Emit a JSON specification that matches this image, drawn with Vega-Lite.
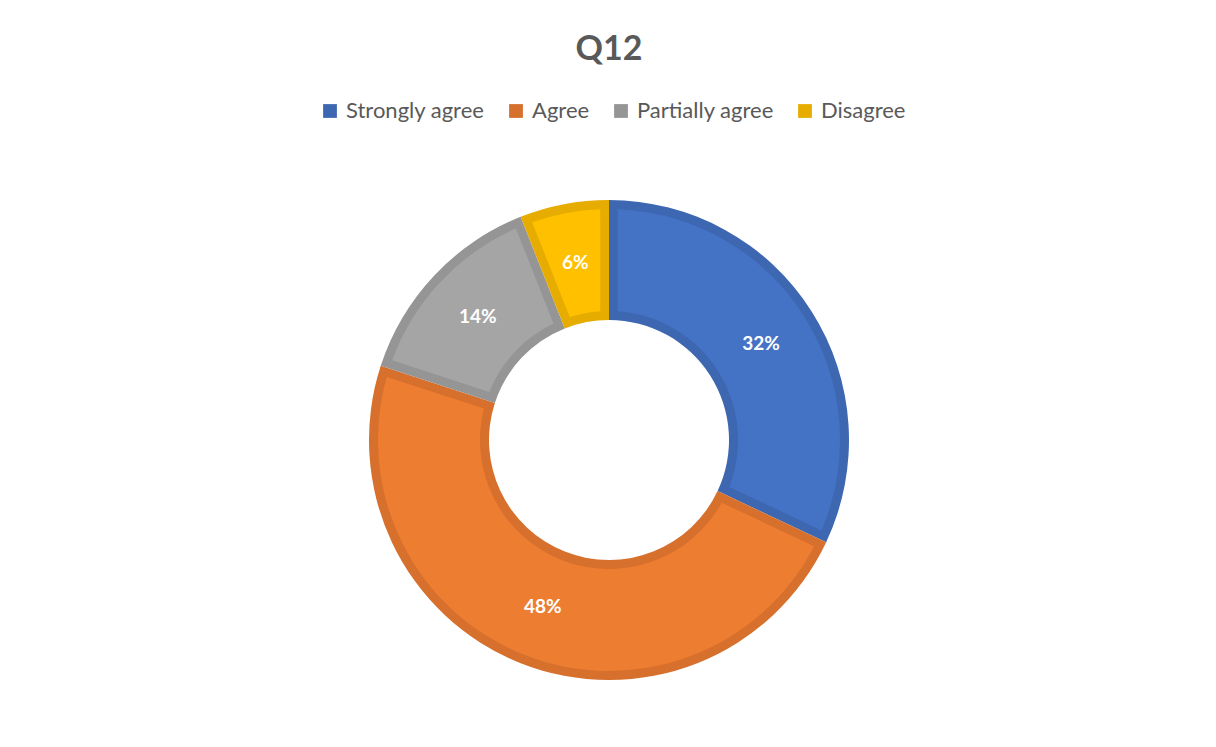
{
  "$schema": "https://vega.github.io/schema/vega-lite/v6.json",
  "width": 1214,
  "height": 614,
  "autosize": {"type": "none"},
  "padding": {"left": 2, "top": 133, "right": 0, "bottom": 0},
  "background": "white",
  "config": {"view": {"stroke": null}},
  "title": {
    "text": "Q12",
    "font": "Lato",
    "fontSize": 34,
    "fontWeight": "bold",
    "color": "#595959",
    "anchor": "middle",
    "frame": "group",
    "offset": 33
  },
  "data": {
    "values": [
      {"answer": "Strongly agree", "share": 0.32, "rank": 1},
      {"answer": "Agree", "share": 0.48, "rank": 2},
      {"answer": "Partially agree", "share": 0.14, "rank": 3},
      {"answer": "Disagree", "share": 0.06, "rank": 4}
    ]
  },
  "encoding": {
    "theta": {"field": "share", "type": "quantitative", "stack": true},
    "order": {"field": "rank", "type": "quantitative"}
  },
  "layer": [
    {
      "mark": {"type": "arc", "outerRadius": 240, "innerRadius": 120},
      "encoding": {
        "color": {
          "field": "answer",
          "type": "nominal",
          "sort": ["Strongly agree", "Agree", "Partially agree", "Disagree"],
          "scale": {
            "domain": ["Strongly agree", "Agree", "Partially agree", "Disagree"],
            "range": ["#3E67B1", "#D6702C", "#959595", "#E6AC00"]
          },
          "legend": {
            "title": null,
            "orient": "none",
            "direction": "horizontal",
            "legendX": 317,
            "legendY": -33,
            "symbolType": "square",
            "symbolSize": 190,
            "symbolStrokeWidth": 0,
            "labelFont": "Lato",
            "labelFontSize": 22,
            "labelColor": "#595959",
            "labelOffset": 5,
            "columnPadding": 20
          }
        }
      }
    },
    {
      "mark": {"type": "arc", "outerRadius": 231, "innerRadius": 129, "padAngle": 0.066},
      "encoding": {
        "color": {
          "field": "answer",
          "type": "nominal",
          "sort": ["Strongly agree", "Agree", "Partially agree", "Disagree"],
          "scale": {
            "domain": ["Strongly agree", "Agree", "Partially agree", "Disagree"],
            "range": ["#4472C4", "#ED7D31", "#A5A5A5", "#FFC000"]
          },
          "legend": null
        }
      }
    },
    {
      "mark": {"type": "text", "radius": 180, "font": "Lato", "fontSize": 19, "fontWeight": "bold", "fill": "white"},
      "encoding": {
        "text": {"field": "share", "type": "quantitative", "format": ".0%"}
      }
    }
  ],
  "resolve": {"scale": {"color": "independent"}}
}
